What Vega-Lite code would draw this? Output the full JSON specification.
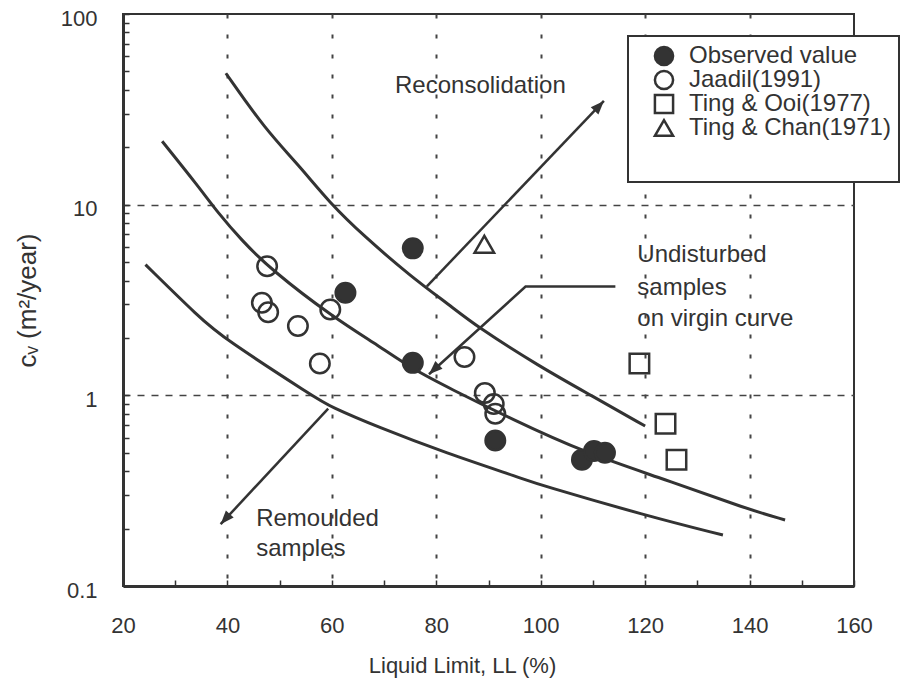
{
  "$schema": "https://vega.github.io/schema/vega-lite/v6.json",
  "width": 731,
  "height": 572,
  "autosize": {"type": "none"},
  "padding": {"left": 123, "top": 14, "right": 55, "bottom": 98},
  "background": "white",
  "config": {
    "font": "Liberation Sans",
    "view": {"stroke": "#333333", "strokeWidth": 2},
    "legend": {
      "orient": "none",
      "legendX": 505,
      "legendY": 22,
      "fillColor": "white",
      "strokeColor": "#333333",
      "strokeWidth": 2,
      "padding": 8,
      "symbolOffset": 16,
      "labelOffset": 13,
      "labelFont": "Liberation Sans",
      "labelFontSize": 24,
      "labelColor": "#333333",
      "labelLimit": 400,
      "rowPadding": 0,
      "clipHeight": 24,
      "symbolSize": 330,
      "symbolStrokeColor": "#333333",
      "symbolStrokeWidth": 2.5,
      "titleOrient": "bottom",
      "titleFontSize": 28,
      "titlePadding": 6
    }
  },
  "datasets": {
    "points": [
      {"series": "Observed value", "LL": 75.5, "cv": 5.9},
      {"series": "Observed value", "LL": 62.6, "cv": 3.45},
      {"series": "Observed value", "LL": 75.5, "cv": 1.48},
      {"series": "Observed value", "LL": 91.3, "cv": 0.58},
      {"series": "Observed value", "LL": 107.9, "cv": 0.46},
      {"series": "Observed value", "LL": 110.2, "cv": 0.51},
      {"series": "Observed value", "LL": 112.3, "cv": 0.5},
      {"series": "Jaadil(1991)", "LL": 47.6, "cv": 4.75},
      {"series": "Jaadil(1991)", "LL": 46.6, "cv": 3.06},
      {"series": "Jaadil(1991)", "LL": 47.8, "cv": 2.73},
      {"series": "Jaadil(1991)", "LL": 53.5, "cv": 2.31},
      {"series": "Jaadil(1991)", "LL": 59.7, "cv": 2.82},
      {"series": "Jaadil(1991)", "LL": 57.7, "cv": 1.47},
      {"series": "Jaadil(1991)", "LL": 85.4, "cv": 1.59},
      {"series": "Jaadil(1991)", "LL": 89.3, "cv": 1.03},
      {"series": "Jaadil(1991)", "LL": 91.0, "cv": 0.9},
      {"series": "Jaadil(1991)", "LL": 91.3, "cv": 0.8},
      {"series": "Ting & Ooi(1977)", "LL": 118.9, "cv": 1.47},
      {"series": "Ting & Ooi(1977)", "LL": 123.9, "cv": 0.71},
      {"series": "Ting & Ooi(1977)", "LL": 126.0, "cv": 0.46},
      {"series": "Ting & Chan(1971)", "LL": 89.2, "cv": 6.2}
    ],
    "curves": [
      {"curve": "reconsolidation", "seq": 1, "LL": 39.7, "cv": 48.9},
      {"curve": "reconsolidation", "seq": 2, "LL": 47.3, "cv": 24.7},
      {"curve": "reconsolidation", "seq": 3, "LL": 53.6, "cv": 16.2},
      {"curve": "reconsolidation", "seq": 4, "LL": 59.6, "cv": 10.2},
      {"curve": "reconsolidation", "seq": 5, "LL": 66.2, "cv": 6.82},
      {"curve": "reconsolidation", "seq": 6, "LL": 75.1, "cv": 4.21},
      {"curve": "reconsolidation", "seq": 7, "LL": 82.7, "cv": 2.95},
      {"curve": "reconsolidation", "seq": 8, "LL": 87.7, "cv": 2.3},
      {"curve": "reconsolidation", "seq": 9, "LL": 99.7, "cv": 1.42},
      {"curve": "reconsolidation", "seq": 10, "LL": 109.9, "cv": 0.99},
      {"curve": "reconsolidation", "seq": 11, "LL": 120.0, "cv": 0.69},
      {"curve": "virgin", "seq": 1, "LL": 27.5, "cv": 21.5},
      {"curve": "virgin", "seq": 2, "LL": 34.4, "cv": 12.5},
      {"curve": "virgin", "seq": 3, "LL": 38.2, "cv": 9.05},
      {"curve": "virgin", "seq": 4, "LL": 42.6, "cv": 6.56},
      {"curve": "virgin", "seq": 5, "LL": 48.3, "cv": 4.57},
      {"curve": "virgin", "seq": 6, "LL": 60.3, "cv": 2.56},
      {"curve": "virgin", "seq": 7, "LL": 69.1, "cv": 1.81},
      {"curve": "virgin", "seq": 8, "LL": 75.5, "cv": 1.37},
      {"curve": "virgin", "seq": 9, "LL": 82.5, "cv": 1.09},
      {"curve": "virgin", "seq": 10, "LL": 94.5, "cv": 0.749},
      {"curve": "virgin", "seq": 11, "LL": 108.4, "cv": 0.501},
      {"curve": "virgin", "seq": 12, "LL": 123.7, "cv": 0.363},
      {"curve": "virgin", "seq": 13, "LL": 139.6, "cv": 0.253},
      {"curve": "virgin", "seq": 14, "LL": 146.8, "cv": 0.222},
      {"curve": "remoulded", "seq": 1, "LL": 24.3, "cv": 4.85},
      {"curve": "remoulded", "seq": 2, "LL": 34.7, "cv": 2.55},
      {"curve": "remoulded", "seq": 3, "LL": 39.2, "cv": 2.0},
      {"curve": "remoulded", "seq": 4, "LL": 56.9, "cv": 0.97},
      {"curve": "remoulded", "seq": 5, "LL": 59.4, "cv": 0.88},
      {"curve": "remoulded", "seq": 6, "LL": 68.9, "cv": 0.68},
      {"curve": "remoulded", "seq": 7, "LL": 81.7, "cv": 0.5},
      {"curve": "remoulded", "seq": 8, "LL": 96.9, "cv": 0.363},
      {"curve": "remoulded", "seq": 9, "LL": 99.4, "cv": 0.342},
      {"curve": "remoulded", "seq": 10, "LL": 120.4, "cv": 0.233},
      {"curve": "remoulded", "seq": 11, "LL": 134.9, "cv": 0.185}
    ],
    "arrows": [
      {"arrow": "reconsolidation", "seq": 1, "LL": 78.2, "cv": 3.73},
      {"arrow": "reconsolidation", "seq": 2, "LL": 112.1, "cv": 35.0},
      {"arrow": "undisturbed", "seq": 1, "LL": 114.3, "cv": 3.72},
      {"arrow": "undisturbed", "seq": 2, "LL": 97.1, "cv": 3.72},
      {"arrow": "undisturbed", "seq": 3, "LL": 78.6, "cv": 1.29},
      {"arrow": "remoulded", "seq": 1, "LL": 59.3, "cv": 0.851},
      {"arrow": "remoulded", "seq": 2, "LL": 38.7, "cv": 0.211}
    ],
    "notes": [
      {"text": "Reconsolidation", "LL": 72.1, "cv": 42},
      {"text": "Undisturbed", "LL": 118.5, "cv": 5.47},
      {"text": "samples", "LL": 118.5, "cv": 3.67},
      {"text": "on virgin curve", "LL": 118.5, "cv": 2.5},
      {"text": "Remoulded", "LL": 45.5, "cv": 0.224},
      {"text": "samples", "LL": 45.5, "cv": 0.156}
    ]
  },
  "encoding": {
    "x": {
      "field": "LL",
      "type": "quantitative",
      "scale": {"domain": [20, 160], "nice": false, "zero": false},
      "axis": {
        "title": "Liquid Limit, LL (%)",
        "titleFont": "Liberation Sans",
        "titleFontSize": 22,
        "titleFontWeight": "normal",
        "titleColor": "#333333",
        "titleX": 339,
        "titleY": 79,
        "titleBaseline": "middle",
        "titleAlign": "center",
        "values": [20, 30, 40, 50, 60, 70, 80, 90, 100, 110, 120, 130, 140, 150, 160],
        "labelExpr": "datum.value % 20 == 0 ? datum.label : ''",
        "labelFontSize": 22,
        "labelColor": "#333333",
        "labelPadding": 35,
        "labelFlush": false,
        "labelOverlap": false,
        "tickSize": -6,
        "tickWidth": 1.5,
        "tickColor": "#333333",
        "domainColor": "#333333",
        "domainWidth": 3,
        "grid": true,
        "gridColor": "#444444",
        "gridWidth": 2,
        "gridDash": [4, 16],
        "gridOpacity": {"condition": {"test": "datum.value % 20 == 0 && datum.value > 20 && datum.value < 160", "value": 1}, "value": 0}
      }
    },
    "y": {
      "field": "cv",
      "type": "quantitative",
      "scale": {"type": "log", "domain": [0.1, 100], "nice": false},
      "axis": {
        "title": "cᵥ (m²/year)",
        "titleFont": "Liberation Sans",
        "titleFontSize": 26,
        "titleFontWeight": "normal",
        "titleColor": "#333333",
        "titleX": -96,
        "titleY": 286,
        "titleBaseline": "middle",
        "titleAlign": "center",
        "titleAngle": -90,
        "values": [0.1, 0.2, 0.3, 0.4, 0.5, 0.6, 0.7, 0.8, 0.9, 1, 2, 3, 4, 5, 6, 7, 8, 9, 10, 20, 30, 40, 50, 60, 70, 80, 90, 100],
        "labelExpr": "datum.value == 0.1 || datum.value == 1 || datum.value == 10 || datum.value == 100 ? format(datum.value, '~g') : ''",
        "labelFontSize": 22,
        "labelColor": "#333333",
        "labelPadding": 32,
        "labelOffset": 4,
        "labelFlush": false,
        "labelOverlap": false,
        "tickSize": -6,
        "tickWidth": 1.5,
        "tickColor": "#333333",
        "domainColor": "#333333",
        "domainWidth": 3,
        "grid": true,
        "gridColor": "#444444",
        "gridWidth": 1.5,
        "gridDash": [7, 7],
        "gridOpacity": {"condition": {"test": "datum.value == 1 || datum.value == 10", "value": 1}, "value": 0}
      }
    }
  },
  "layer": [
    {
      "data": {"name": "curves"},
      "mark": {"type": "line", "color": "#333333", "strokeWidth": 3, "interpolate": "basis"},
      "encoding": {
        "detail": {"field": "curve", "type": "nominal"},
        "order": {"field": "seq", "type": "quantitative"}
      }
    },
    {
      "data": {"name": "arrows"},
      "mark": {"type": "line", "color": "#333333", "strokeWidth": 2.5},
      "encoding": {
        "detail": {"field": "arrow", "type": "nominal"},
        "order": {"field": "seq", "type": "quantitative"}
      }
    },
    {
      "data": {"name": "arrows"},
      "transform": [{"filter": "datum.arrow == 'reconsolidation' && datum.seq == 2"}],
      "mark": {"type": "point", "shape": "M0,0L-1,2.6L1,2.6Z", "size": 110, "filled": true, "fill": "#333333", "stroke": null, "opacity": 1, "angle": 43}
    },
    {
      "data": {"name": "arrows"},
      "transform": [{"filter": "datum.arrow == 'undisturbed' && datum.seq == 3"}],
      "mark": {"type": "point", "shape": "M0,0L-1,2.6L1,2.6Z", "size": 110, "filled": true, "fill": "#333333", "stroke": null, "opacity": 1, "angle": 227}
    },
    {
      "data": {"name": "arrows"},
      "transform": [{"filter": "datum.arrow == 'remoulded' && datum.seq == 2"}],
      "mark": {"type": "point", "shape": "M0,0L-1,2.6L1,2.6Z", "size": 110, "filled": true, "fill": "#333333", "stroke": null, "opacity": 1, "angle": 222}
    },
    {
      "data": {"name": "points"},
      "mark": {"type": "point", "size": 380, "strokeWidth": 2.5, "opacity": 1},
      "encoding": {
        "shape": {
          "field": "series",
          "type": "nominal",
          "scale": {"domain": ["Observed value", "Jaadil(1991)", "Ting & Ooi(1977)", "Ting & Chan(1971)"], "range": ["circle", "circle", "square", "triangle-up"]},
          "legend": {"title": " "}
        },
        "fill": {
          "field": "series",
          "type": "nominal",
          "scale": {"domain": ["Observed value", "Jaadil(1991)", "Ting & Ooi(1977)", "Ting & Chan(1971)"], "range": ["#333333", "transparent", "transparent", "transparent"]},
          "legend": {"title": " "}
        },
        "stroke": {
          "field": "series",
          "type": "nominal",
          "scale": {"domain": ["Observed value", "Jaadil(1991)", "Ting & Ooi(1977)", "Ting & Chan(1971)"], "range": ["#333333", "#333333", "#333333", "#333333"]},
          "legend": {"title": " "}
        }
      }
    },
    {
      "data": {"name": "notes"},
      "mark": {"type": "text", "align": "left", "baseline": "middle", "font": "Liberation Sans", "fontSize": 24, "color": "#333333"},
      "encoding": {"text": {"field": "text", "type": "nominal"}}
    }
  ]
}
